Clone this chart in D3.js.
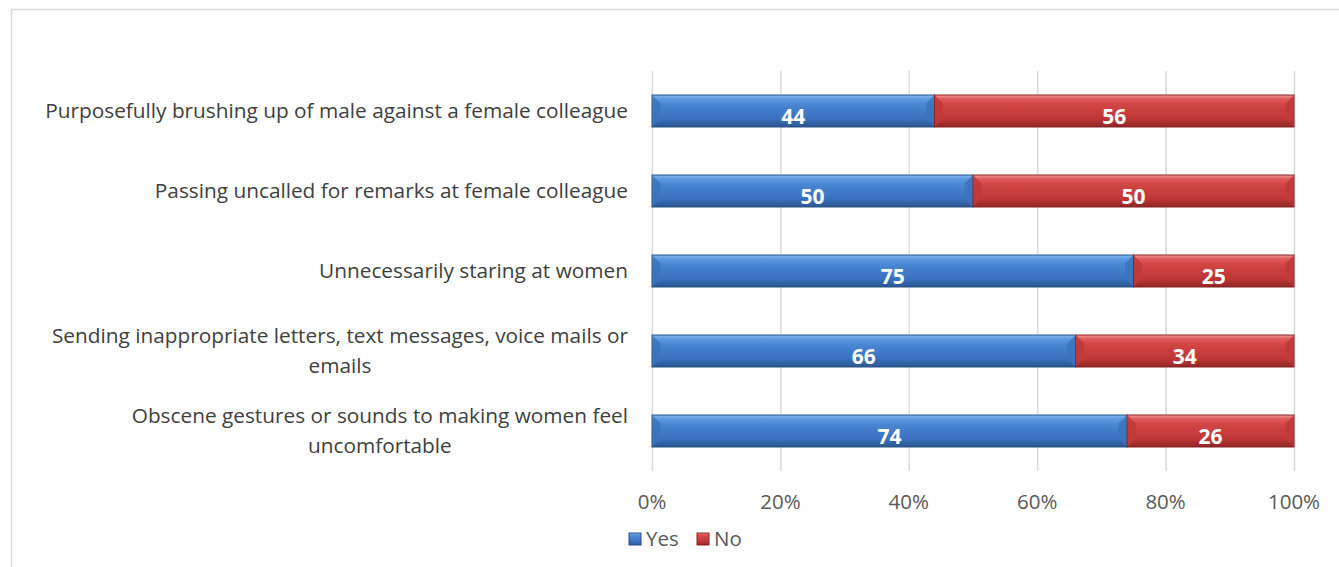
<!DOCTYPE html>
<html>
<head>
<meta charset="utf-8">
<script src="https://cdn.jsdelivr.net/npm/d3@7"></script>
<style>
  body { margin: 0; background: #fff; }
  svg { display: block; font-family: "Open Sans", sans-serif; }
</style>
</head>
<body>
<svg id="canvas" width="1339" height="567"></svg>
<script>
// categories top to bottom, values in percent
var categories = [
  ["Purposefully brushing up of male against a female colleague"],
  ["Passing uncalled for remarks at female colleague"],
  ["Unnecessarily staring at women"],
  ["Sending inappropriate letters, text messages, voice mails or", "emails"],
  ["Obscene gestures or sounds to making women feel", "uncomfortable"]
];
var yes = [44, 50, 75, 66, 74];
var no = [56, 50, 25, 34, 26];
var seriesNames = ["Yes", "No"];
var ticks = [0, 20, 40, 60, 80, 100];

var svg = d3.select("#canvas");

// outer chart border (only left and top visible in the crop)
svg.append("path")
  .attr("d", "M11.5,567 V9.5 H1339")
  .attr("fill", "none")
  .attr("stroke", "#d9d9d9")
  .attr("stroke-width", 1.5);

var x = d3.scaleLinear().domain([0, 100]).range([652, 1294]);
var y = d3.scaleBand().domain(d3.range(categories.length)).range([71, 471]).paddingInner(0.6).paddingOuter(0.3);

var defs = svg.append("defs");
function grad(id, stops) {
  var g = defs.append("linearGradient").attr("id", id)
    .attr("x1", 0).attr("y1", 0).attr("x2", 0).attr("y2", 1);
  stops.forEach(function(s) {
    g.append("stop").attr("offset", s[0]).attr("stop-color", s[1]);
  });
}
grad("gYes", [[0, "#8ab8ee"], [0.12, "#5d9be3"], [0.3, "#4a86d2"], [0.75, "#3a70bd"], [1, "#2b5590"]]);
grad("gNo", [[0, "#f09a9a"], [0.12, "#e25a5a"], [0.3, "#d14545"], [0.75, "#bf3535"], [1, "#8f2626"]]);

var colors = { Yes: "url(#gYes)", No: "url(#gNo)" };
var strokes = { Yes: "#2a5289", No: "#8a2424" };
var flat = { Yes: "#3d73bd", No: "#c03838" };

// gridlines
svg.append("g").selectAll("line")
  .data(ticks).enter().append("line")
  .attr("x1", function(d) { return x(d) + 0.5; })
  .attr("x2", function(d) { return x(d) + 0.5; })
  .attr("y1", 71).attr("y2", 471)
  .attr("stroke", "#d9d9d9").attr("stroke-width", 1.5);

// tick labels
svg.append("g").selectAll("text")
  .data(ticks).enter().append("text")
  .attr("x", function(d) { return x(d); })
  .attr("y", 509)
  .attr("text-anchor", "middle")
  .attr("font-size", 20.5)
  .attr("fill", "#595959")
  .text(function(d) { return d + "%"; });

// stacked data
var rows = categories.map(function(c, i) { return { i: i, Yes: yes[i], No: no[i] }; });
var stack = d3.stack().keys(seriesNames)(rows);

var layers = svg.append("g").selectAll("g")
  .data(stack).enter().append("g");

layers.selectAll("rect")
  .data(function(s) { return s.map(function(d) { return { key: s.key, d: d }; }); })
  .enter().append("rect")
  .attr("x", function(p) { return x(p.d[0]); })
  .attr("width", function(p) { return x(p.d[1]) - x(p.d[0]); })
  .attr("y", function(p) { return y(p.d.data.i); })
  .attr("height", y.bandwidth())
  .attr("fill", function(p) { return colors[p.key]; })
  .attr("stroke", function(p) { return strokes[p.key]; })
  .attr("stroke-width", 1);

// bevel corners: small darker triangles at the ends
layers.selectAll("path.bevel")
  .data(function(s) { return s.map(function(d) { return { key: s.key, d: d }; }); })
  .enter().append("path")
  .attr("class", "bevel")
  .attr("d", function(p) {
    var x0 = x(p.d[0]) + 0.5, x1 = x(p.d[1]) - 0.5, t = y(p.d.data.i) + 0.5, b = t + y.bandwidth() - 1, k = 8;
    return "M" + x0 + "," + t + " L" + (x0 + k) + "," + (t + k) + " L" + (x0 + k) + "," + (b - k) + " L" + x0 + "," + b + " Z" +
           "M" + x1 + "," + t + " L" + (x1 - k) + "," + (t + k) + " L" + (x1 - k) + "," + (b - k) + " L" + x1 + "," + b + " Z";
  })
  .attr("fill", function(p) { return flat[p.key]; })
  .attr("opacity", 0.85);

// value labels
layers.selectAll("text")
  .data(function(s) { return s.map(function(d) { return { key: s.key, d: d }; }); })
  .enter().append("text")
  .attr("x", function(p) { return (x(p.d[0]) + x(p.d[1])) / 2; })
  .attr("y", function(p) { return y(p.d.data.i) + y.bandwidth() / 2 + 13; })
  .attr("text-anchor", "middle")
  .attr("font-size", 21)
  .attr("font-weight", "bold")
  .attr("fill", "#fff")
  .text(function(p) { return p.d.data[p.key]; });

// category labels: right edge at 628, wrapped lines centred under the first
var labelRight = 628;
var cat = svg.append("g").selectAll("text")
  .data(categories).enter().append("text")
  .attr("font-size", 20.8)
  .attr("fill", "#404040")
  .attr("text-anchor", "middle");
cat.each(function(d, i) {
  var t = d3.select(this);
  var cy = y(i) + y.bandwidth() / 2;
  var top = cy - (d.length - 1) * 15 + 7;
  var spans = d.map(function(line, j) {
    return t.append("tspan").attr("y", top + j * 30).text(line);
  });
  var w = d3.max(spans, function(s) { return s.node().getComputedTextLength(); });
  spans.forEach(function(s) { s.attr("x", labelRight - w / 2); });
});

// legend
var legend = svg.append("g").attr("transform", "translate(629,533)");
var lx = [0, 68];
seriesNames.forEach(function(n, i) {
  var g = legend.append("g").attr("transform", "translate(" + lx[i] + ",0)");
  g.append("rect").attr("width", 12).attr("height", 12)
    .attr("fill", colors[n]).attr("stroke", strokes[n]);
  g.append("text").attr("x", 17).attr("y", 13)
    .attr("font-size", 20.5).attr("fill", "#595959").text(n);
});
</script>
</body>
</html>
